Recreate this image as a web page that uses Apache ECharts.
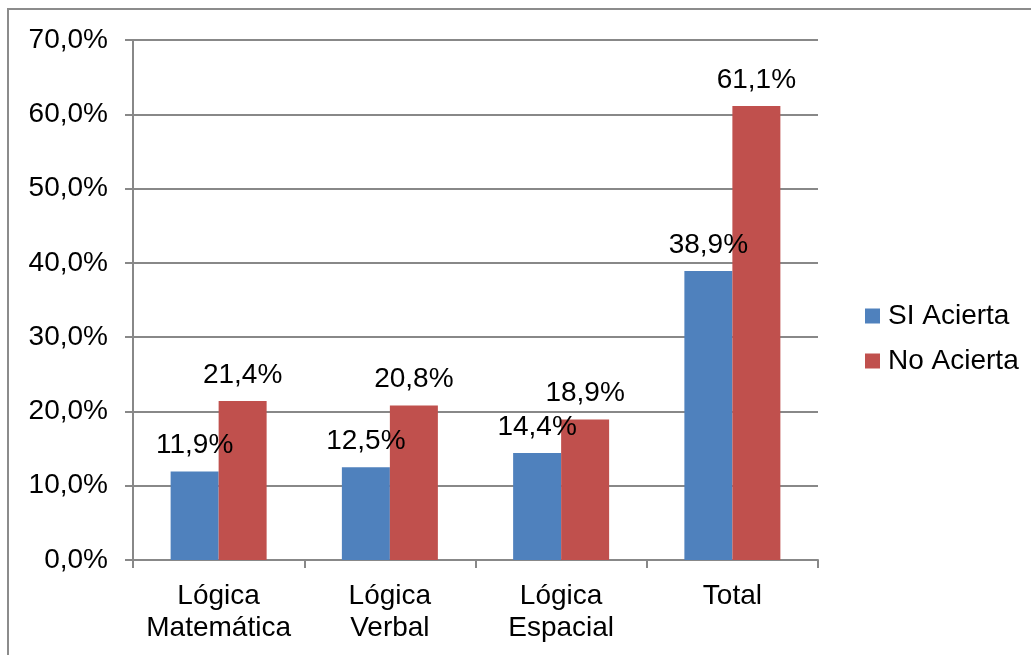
<!DOCTYPE html>
<html>
<head>
<meta charset="utf-8">
<script src="https://cdn.jsdelivr.net/npm/echarts@6/dist/echarts.min.js"></script>
<style>
  html, body { margin: 0; padding: 0; background: #fff; }
  #chart { width: 1031px; height: 655px; }
</style>
</head>
<body>
<div id="chart"></div>
<script>
// datos
const categories = ["Lógica\nMatemática", "Lógica\nVerbal", "Lógica\nEspacial", "Total"];
const siAcierta = [11.9, 12.5, 14.4, 38.9];
const noAcierta = [21.4, 20.8, 18.9, 61.1];
const seriesNames = ["SI Acierta", "No Acierta"];

const font = "'Liberation Sans', Arial, sans-serif";
const fmt = v => v.toFixed(1).replace(".", ",") + "%";

const chart = echarts.init(document.getElementById("chart"));
chart.setOption({
  animation: false,
  textStyle: { fontFamily: font },
  // marco exterior
  graphic: [{
    type: "rect",
    shape: { x: 8, y: 9, width: 1200, height: 800 },
    style: { fill: "none", stroke: "#8c8c8c", lineWidth: 2 },
    silent: true
  }],
  grid: { left: 133, right: 213, top: 40, bottom: 95 },
  legend: {
    orient: "vertical",
    left: 860,
    top: 297,
    itemWidth: 15,
    itemHeight: 15,
    itemGap: 17,
    icon: "rect",
    textStyle: { fontSize: 28, color: "#000", fontFamily: font, padding: [0, 0, 0, 3] },
    data: seriesNames
  },
  xAxis: {
    type: "category",
    data: categories,
    axisLine: { lineStyle: { color: "#888", width: 2 } },
    axisTick: { show: true, length: 8, lineStyle: { color: "#888", width: 2 } },
    axisLabel: { fontSize: 28, color: "#000", lineHeight: 32, margin: 20, interval: 0 }
  },
  yAxis: {
    type: "value",
    min: 0,
    max: 70,
    interval: 10,
    axisLine: { show: true, lineStyle: { color: "#888", width: 2 } },
    axisTick: { show: true, length: 8, lineStyle: { color: "#888", width: 2 } },
    axisLabel: { fontSize: 28, color: "#000", margin: 25, formatter: v => fmt(v) },
    splitLine: { lineStyle: { color: "#888", width: 2 } }
  },
  series: [
    {
      name: seriesNames[0],
      type: "bar",
      data: siAcierta,
      barWidth: 48,
      barGap: "0%",
      itemStyle: { color: "#4F81BD" },
      label: { show: true, position: "top", distance: 12, fontSize: 28, color: "#000", formatter: p => fmt(p.value) }
    },
    {
      name: seriesNames[1],
      type: "bar",
      data: noAcierta,
      barWidth: 48,
      itemStyle: { color: "#C0504D" },
      label: { show: true, position: "top", distance: 12, fontSize: 28, color: "#000", formatter: p => fmt(p.value) }
    }
  ]
});
</script>
</body>
</html>
